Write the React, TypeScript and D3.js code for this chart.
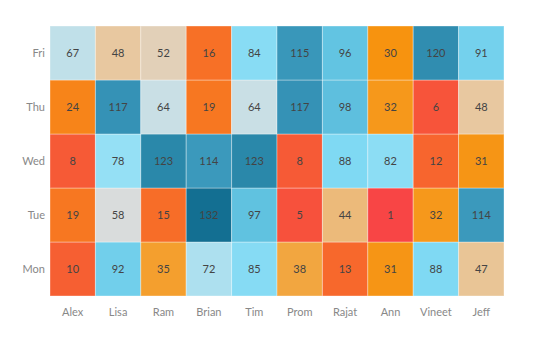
import React from 'react';
import * as d3 from 'd3';

const people = ['Alex', 'Lisa', 'Ram', 'Brian', 'Tim', 'Prom', 'Rajat', 'Ann', 'Vineet', 'Jeff'];
const days = ['Mon', 'Tue', 'Wed', 'Thu', 'Fri'];

// one row per day, one value per person
const mon = [10, 92, 35, 72, 85, 38, 13, 31, 88, 47];
const tue = [19, 58, 15, 132, 97, 5, 44, 1, 32, 114];
const wed = [8, 78, 123, 114, 123, 8, 88, 82, 12, 31];
const thu = [24, 117, 64, 19, 64, 117, 98, 32, 6, 48];
const fri = [67, 48, 52, 16, 84, 115, 96, 30, 120, 91];

const colorStops = [1, 8, 15, 30, 38, 48, 58, 66, 78, 88, 96, 117, 123, 132];
const colorRange = [
  '#f84545', '#f65a36', '#f76d28', '#f7930f', '#f2a640', '#e8c8a0', '#d9dcdc',
  '#c4e0e8', '#95e0f5', '#7fd9f3', '#62c4e2', '#3592b6', '#2a88aa', '#136f92',
];

const App = () => {
  const width = 550;
  const height = 350;
  const margin = { top: 26, right: 46, bottom: 54, left: 50 };

  const rows = [mon, tue, wed, thu, fri];
  const cells = rows.flatMap((vals, di) =>
    vals.map((v, pi) => ({ day: days[di], person: people[pi], value: v }))
  );

  const x = d3.scaleBand().domain(people).range([margin.left, width - margin.right]);
  const y = d3.scaleBand().domain([...days].reverse()).range([margin.top, height - margin.bottom]);
  const color = d3.scaleLinear<string>().domain(colorStops).range(colorRange).clamp(true);

  const font = 'Lato, "Open Sans", sans-serif';

  return (
    <svg width={width} height={height} style={{ position: 'absolute', left: 0, top: 0 }}>
      <g>
        {cells.map((c) => (
          <rect
            key={c.day + c.person}
            x={x(c.person)}
            y={y(c.day)}
            width={x.bandwidth()}
            height={y.bandwidth()}
            fill={color(c.value)}
            stroke="#ffffff"
            strokeOpacity={0.35}
            strokeWidth={1}
          />
        ))}
      </g>
      <g fontFamily={font} fontSize={11} fill="#444" textAnchor="middle">
        {cells.map((c) => (
          <text
            key={'t' + c.day + c.person}
            x={(x(c.person) ?? 0) + x.bandwidth() / 2}
            y={(y(c.day) ?? 0) + y.bandwidth() / 2}
            dy="0.35em"
          >
            {c.value}
          </text>
        ))}
      </g>
      <g fontFamily={font} fontSize={11} fill="#888" textAnchor="middle">
        {people.map((p) => (
          <text key={p} x={(x(p) ?? 0) + x.bandwidth() / 2} y={height - margin.bottom + 16} dy="0.35em">
            {p}
          </text>
        ))}
      </g>
      <g fontFamily={font} fontSize={11} fill="#888" textAnchor="end">
        {days.map((d) => (
          <text key={d} x={margin.left - 5} y={(y(d) ?? 0) + y.bandwidth() / 2} dy="0.35em">
            {d}
          </text>
        ))}
      </g>
    </svg>
  );
};

export default App;
